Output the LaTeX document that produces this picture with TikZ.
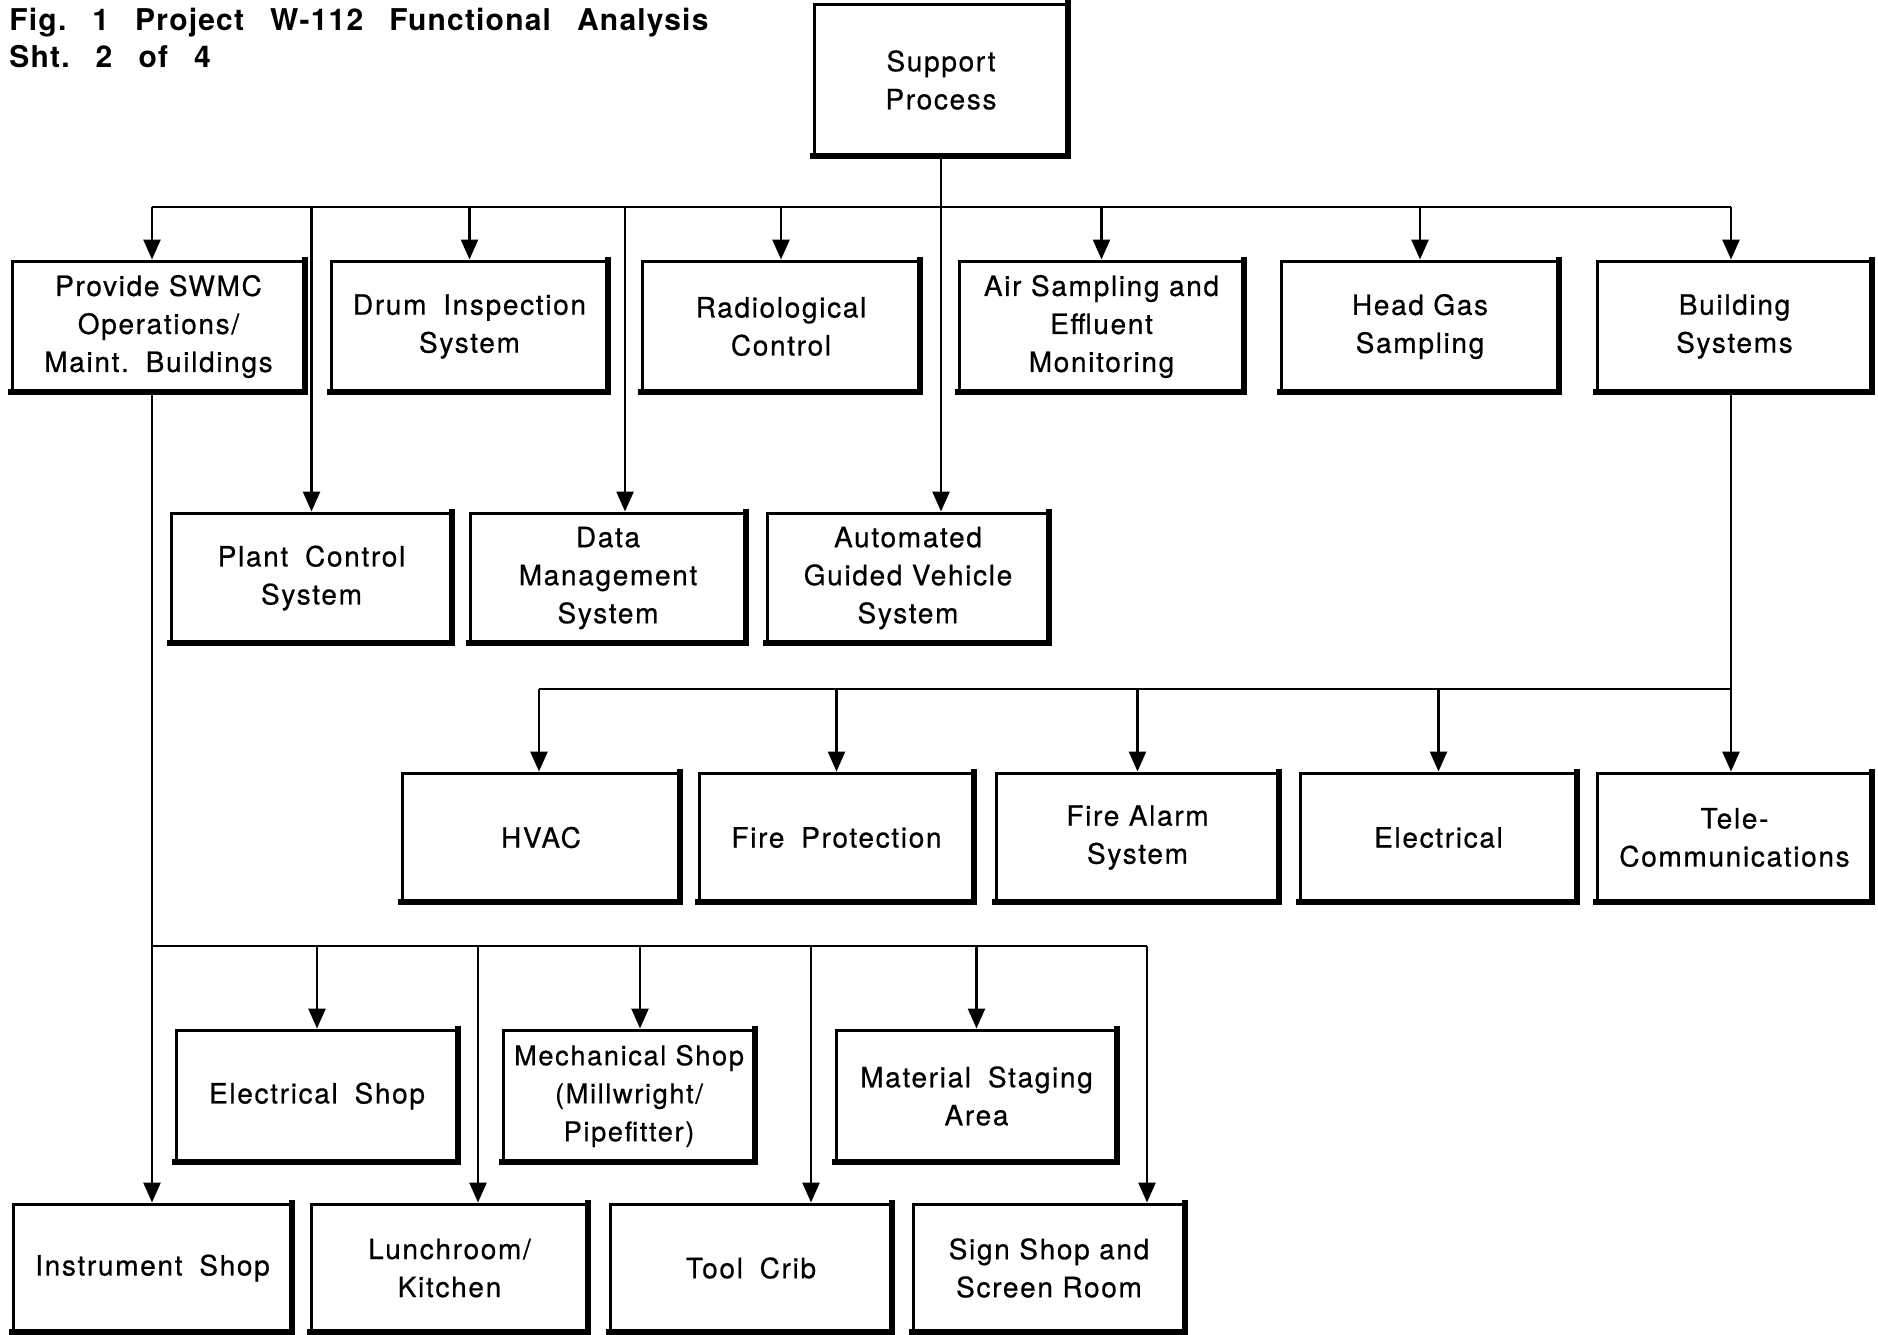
\documentclass[tikz,border=0pt]{standalone}
\usepackage{fontspec}
\setmainfont{TeX Gyre Heros}[LetterSpace=6, FakeBold=0.6]
\newfontfamily\headfont{TeX Gyre Heros}[LetterSpace=4]
\usetikzlibrary{arrows.meta}
\newcommand{\wgap}{\hskip0.6em\relax}
\newcommand{\tgap}{\hskip0.87em\relax}

\begin{document}
\begin{tikzpicture}[x=0.5pt,y=-0.5pt,
  box/.style={draw, line width=1.5pt, align=center, inner sep=0pt,
    font=\fontsize{14}{19}\selectfont},
  link/.style={line width=1.3pt},
  arr/.style={line width=1.3pt, -{Triangle[length=10pt,width=8.5pt]}},
  shade/.style={line width=3pt}]
\useasboundingbox[fill=white] (0,0) rectangle (1878,1334);

% heading
\node[anchor=north west, align=left, inner sep=0pt,
  font=\headfont\bfseries\fontsize{15}{18.5}\selectfont] (title) at (9,8)
  {Fig.\tgap 1\tgap Project\tgap W-112\tgap Functional\tgap Analysis\\Sht.\tgap 2\tgap of\tgap 4};

% top level
\node[box, minimum width=127pt, minimum height=76pt] (sup) at (941,80) {Support\\Process};

% first level
\begin{scope}[every node/.append style={minimum height=65.5pt}]
\node[box, minimum width=146.5pt] (swmc) at (158.5,326.5) {Provide SWMC\\Operations/\\Maint.\wgap Buildings};
\node[box, minimum width=138.5pt] (drum) at (469.5,326.5) {Drum\wgap Inspection\\System};
\node[box, minimum width=139pt]   (rad)  at (781,326.5)   {Radiological\\Control};
\node[box, minimum width=142.5pt] (air)  at (1101.5,326.5) {Air Sampling and\\Effluent\\Monitoring};
\node[box, minimum width=139pt]   (head) at (1420,326.5)  {Head Gas\\Sampling};
\node[box, minimum width=137.5pt] (bldg) at (1734.5,326.5) {Building\\Systems};
\end{scope}

% second level (control systems)
\begin{scope}[every node/.append style={minimum height=65pt}]
\node[box, minimum width=140.5pt] (plant) at (311.5,578) {Plant\wgap Control\\System};
\node[box, minimum width=138pt]   (data)  at (608,578)   {Data\\Management\\System};
\node[box, minimum width=141pt]   (agv)   at (908,578)   {Automated\\Guided Vehicle\\System};
\end{scope}

% building systems
\begin{scope}[every node/.append style={minimum height=64.5pt}]
\node[box, minimum width=139pt]   (hvac)  at (541,837.5)    {HVAC};
\node[box, minimum width=137.5pt] (firep) at (836.5,837.5)  {Fire\wgap Protection};
\node[box, minimum width=141.5pt] (alarm) at (1137.5,837.5) {Fire Alarm\\System};
\node[box, minimum width=138.5pt] (elec)  at (1438.5,837.5) {Electrical};
\node[box, minimum width=137.5pt] (tele)  at (1734.5,837.5) {Tele-\\Communications};
\end{scope}

% shops, upper row
\begin{scope}[every node/.append style={minimum height=66pt}]
\node[box, minimum width=141pt]   (eshop) at (317,1096)   {Electrical\wgap Shop};
\node[box, minimum width=126pt, font=\fontsize{13.6}{19}\selectfont]
                                  (mech)  at (629,1096)   {Mechanical Shop\\(Millwright/\\Pipefitter)};
\node[box, minimum width=140.5pt] (mat)   at (976.5,1096) {Material\wgap Staging\\Area};
\end{scope}

% shops, lower row
\begin{scope}[every node/.append style={minimum height=64pt}]
\node[box, minimum width=139.5pt] (inst)  at (152.5,1268) {Instrument\wgap Shop};
\node[box, minimum width=138.5pt] (lunch) at (449.5,1268) {Lunchroom/\\Kitchen};
\node[box, minimum width=141pt]   (tool)  at (751,1268)   {Tool\wgap Crib};
\node[box, minimum width=136pt]   (sign)  at (1049,1268)  {Sign Shop and\\Screen Room};
\end{scope}

% heavy lower and right edges
\foreach \n in {sup,swmc,drum,rad,air,head,bldg,plant,data,agv,
                hvac,firep,alarm,elec,tele,eshop,mech,mat,inst,lunch,tool,sign}
  \draw[shade] ([xshift=-0.8pt,yshift=1.5pt]\n.north east) -- ([xshift=-0.8pt,yshift=0.8pt]\n.south east)
               -- ([xshift=-1.5pt,yshift=0.8pt]\n.south west);

% main distribution bus
\coordinate (busL) at (152,207);
\coordinate (busR) at (1731,207);
\coordinate (tapD) at (625,207);
\draw[link] (busL) -- (busR);
\draw[arr] (sup.south) -- (sup.south |- agv.north);
\draw[arr] (busL) -- (busL |- swmc.north);
\draw[arr] (drum.north |- busL) -- (drum.north);
\draw[arr] (rad.north |- busL) -- (rad.north);
\draw[arr] (air.north |- busL) -- (air.north);
\draw[arr] (head.north |- busL) -- (head.north);
\draw[arr] (busR) -- (busR |- bldg.north);
\draw[arr] (plant.north |- busL) -- (plant.north);
\draw[arr] (tapD) -- (tapD |- data.north);

% building systems bus
\coordinate (bbusL) at (539,689);
\draw[link] (busR |- bldg.south) -- (busR |- bbusL) -- (bbusL);
\draw[arr] (bbusL) -- (bbusL |- hvac.north);
\draw[arr] (firep.north |- bbusL) -- (firep.north);
\draw[arr] (alarm.north |- bbusL) -- (alarm.north);
\draw[arr] (elec.north |- bbusL) -- (elec.north);
\draw[arr] (busR |- bbusL) -- (busR |- tele.north);

% shops bus
\coordinate (sbusL) at (152,946);
\coordinate (sbusR) at (1147,946);
\coordinate (tapM) at (640,946);
\coordinate (tapL) at (478,946);
\coordinate (tapT) at (811,946);
\draw[arr] (busL |- swmc.south) -- (busL |- inst.north);
\draw[link] (sbusL) -- (sbusR);
\draw[arr] (eshop.north |- sbusL) -- (eshop.north);
\draw[arr] (tapM) -- (tapM |- mech.north);
\draw[arr] (mat.north |- sbusL) -- (mat.north);
\draw[arr] (tapL) -- (tapL |- lunch.north);
\draw[arr] (tapT) -- (tapT |- tool.north);
\draw[arr] (sbusR) -- (sbusR |- sign.north);
\end{tikzpicture}
\end{document}
